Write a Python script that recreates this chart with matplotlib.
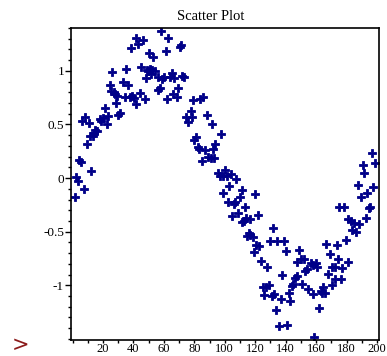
import matplotlib
matplotlib.use("Agg")
import matplotlib.pyplot as plt
from matplotlib.ticker import MultipleLocator, FixedLocator

title = "Scatter Plot"

x_vals = [1.6, 2.2, 3.5, 4.2, 5.5, 6.2, 8.1, 7.5, 9.5, 10.8,
          12.1, 11.4, 13.4, 14.1, 14.7, 16.0, 18.0, 18.7, 20.0, 21.3,
          22.6, 23.3, 24.6, 25.2, 27.2, 27.9, 29.2, 28.6, 25.9, 29.8,
          31.1, 33.1, 36.4, 34.4, 37.7, 39.0, 40.3, 35.1, 38.4, 41.7,
          41.7, 43.0, 46.3, 44.3, 44.9, 48.9, 47.6, 48.2, 50.2, 52.8,
          49.5, 50.9, 52.2, 54.1, 51.5, 56.1, 58.7, 60.0, 56.1, 57.4,
          58.1, 61.4, 62.0, 62.7, 64.0, 65.3, 66.6, 66.0, 68.6, 69.2,
          70.6, 71.2, 71.9, 73.2, 74.5, 75.8, 77.8, 78.4, 79.1, 79.8,
          81.1, 82.4, 83.0, 83.7, 85.7, 85.0, 87.0, 88.3, 89.0, 90.9,
          92.9, 91.6, 92.2, 93.6, 97.5, 95.5, 96.8, 98.8, 100.1, 101.4,
          104.1, 107.4, 102.8, 98.8, 102.1, 106.0, 106.7, 104.7, 108.7, 110.0,
          111.3, 113.3, 111.3, 112.6, 113.9, 116.6, 119.8, 121.8, 114.6, 115.9,
          116.6, 118.5, 120.5, 122.5, 119.2, 123.8, 127.7, 131.7, 129.7, 134.3,
          138.9, 140.2, 125.1, 127.1, 129.0, 125.7, 131.0, 132.3, 136.9, 133.6,
          135.6, 137.6, 140.9, 142.8, 142.2, 144.1, 144.8, 146.1, 147.4, 148.7,
          147.4, 150.1, 152.0, 150.7, 152.7, 154.0, 154.7, 156.6, 157.9, 159.9,
          160.6, 157.9, 161.9, 158.6, 163.2, 164.5, 165.8, 163.9, 166.5, 167.8,
          169.1, 170.4, 172.4, 170.4, 172.4, 176.3, 173.7, 174.4, 177.0, 179.6,
          180.9, 175.0, 178.3, 180.9, 182.9, 184.9, 183.6, 186.2, 188.2, 187.5,
          189.5, 190.8, 191.4, 192.8, 193.4, 194.7, 195.4, 196.7, 197.4, 198.7]

y_vals = [-0.18, 0.01, -0.03, 0.17, 0.15, 0.53, 0.57, -0.10, 0.32, 0.51,
          0.07, 0.39, 0.39, 0.42, 0.45, 0.44, 0.55, 0.53, 0.56, 0.65,
          0.50, 0.58, 0.87, 0.81, 0.80, 0.78, 0.77, 0.70, 0.99, 0.59,
          0.61, 0.90, 0.87, 0.76, 0.76, 0.77, 0.75, 1.02, 1.21, 0.69,
          1.31, 1.25, 1.29, 0.79, 1.04, 1.01, 0.74, 0.93, 1.17, 1.13,
          1.00, 1.02, 1.01, 1.00, 0.97, 0.94, 0.92, 0.94, 0.82, 0.84,
          1.37, 1.19, 0.74, 1.31, 0.94, 0.98, 0.93, 0.78, 0.76, 0.84,
          1.22, 1.24, 0.95, 0.94, 0.57, 0.52, 0.63, 0.57, 0.73, 0.36,
          0.38, 0.29, 0.27, 0.74, 0.76, 0.16, 0.26, 0.59, 0.20, 0.19,
          0.19, 0.50, 0.27, 0.32, 0.41, 0.05, 0.02, 0.02, 0.08, 0.02,
          0.04, -0.01, -0.07, -0.14, -0.22, -0.24, -0.22, -0.35, -0.33, -0.18,
          -0.11, -0.27, -0.41, -0.40, -0.37, -0.38, -0.15, -0.34, -0.54, -0.51,
          -0.53, -0.55, -0.62, -0.63, -0.69, -0.77, -0.83, -0.47, -0.59, -0.59,
          -0.59, -0.68, -1.02, -1.02, -1.00, -1.09, -1.10, -1.08, -1.13, -1.23,
          -1.38, -0.90, -1.37, -1.15, -1.07, -1.01, -0.99, -0.93, -0.91, -0.67,
          -0.78, -0.75, -0.75, -0.99, -0.87, -0.85, -1.03, -0.79, -0.81, -0.79,
          -0.83, -1.08, -1.21, -1.48, -1.05, -1.02, -1.07, -1.07, -0.61, -0.89,
          -0.71, -0.83, -0.83, -1.00, -0.94, -0.94, -0.62, -0.75, -0.84, -0.58,
          -0.78, -0.27, -0.27, -0.38, -0.40, -0.42, -0.48, -0.50, -0.43, -0.06,
          -0.18, 0.12, 0.05, -0.37, -0.14, -0.28, -0.27, 0.23, -0.08, 0.14]

x_ticks = [20, 40, 60, 80, 100, 120, 140, 160, 180, 200]
x_tick_labels = ["20", "40", "60", "80", "100", "120", "140", "160", "180", "200"]
y_ticks = [-1.0, -0.5, 0.0, 0.5, 1.0]
y_tick_labels = ["-1", "-0.5", "0", "0.5", "1"]

serif = ["Liberation Serif", "DejaVu Serif"]

fig = plt.figure(figsize=(3.87, 3.56), dpi=100)
ax = fig.add_axes([71 / 387, 16 / 356, 308 / 387, 312 / 356])

ax.plot(x_vals, y_vals, linestyle="none", marker="P", markersize=5.5,
        color="#000088", markeredgecolor="#000088", markeredgewidth=0.6)

ax.set_xlim(-1.0, 201.3)
ax.set_ylim(-1.51, 1.40)

ax.xaxis.set_major_locator(FixedLocator(x_ticks))
ax.set_xticklabels(x_tick_labels, fontfamily=serif, fontsize=9)
ax.xaxis.set_minor_locator(MultipleLocator(10))
ax.yaxis.set_major_locator(FixedLocator(y_ticks))
ax.set_yticklabels(y_tick_labels, fontfamily=serif, fontsize=9.5)
ax.yaxis.set_minor_locator(MultipleLocator(0.1))

ax.tick_params(axis="y", which="major", direction="out", length=4, width=1,
               pad=1, colors="black")
ax.tick_params(axis="x", which="major", direction="out", length=2.5, width=1,
               pad=0, colors="black")
ax.tick_params(axis="both", which="minor", direction="out", length=2.5, width=1)
for s in ax.spines.values():
    s.set_linewidth(1.2)
    s.set_color("black")

ax.set_title(title, fontfamily=serif, fontsize=10.5, pad=6, x=0.455)

fig.text(12 / 387, 1 / 356, ">", color="#8b1a1a", fontsize=15,
         ha="left", va="bottom", family="DejaVu Sans")

fig.savefig("out.png", dpi=100)
